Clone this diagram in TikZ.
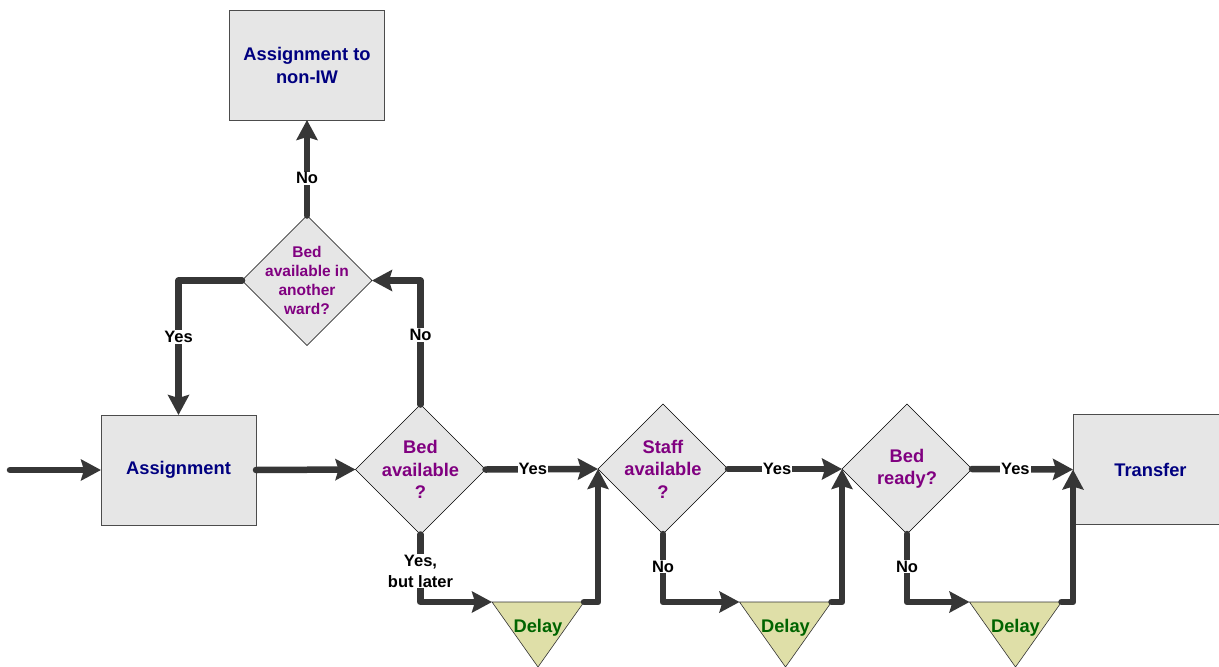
\documentclass[tikz,border=0pt]{standalone}
\usepackage{fontspec}
\setmainfont{Liberation Sans}
\usetikzlibrary{shapes.geometric,arrows.meta}
\definecolor{boxfill}{HTML}{E6E6E6}
\definecolor{boxtext}{HTML}{000080}
\definecolor{asktext}{HTML}{800080}
\definecolor{delayfill}{HTML}{DFDFA8}
\definecolor{delaytext}{HTML}{006400}
\definecolor{flow}{HTML}{363636}

\begin{document}
\begin{tikzpicture}[x=1pt,y=-1pt,
  procbox/.style={draw=black!70, line width=0.8pt, fill=boxfill, outer sep=0pt,
    minimum width=155pt, minimum height=110pt, inner sep=0pt, align=center,
    font=\fontsize{18.3}{23}\selectfont\bfseries, text=boxtext},
  ask/.style={diamond, draw=black, line width=0.6pt, fill=boxfill, outer sep=0pt,
    minimum width=130pt, minimum height=130pt, inner sep=0pt},
  asklabel/.style={align=center, text=asktext, font=\fontsize{18.3}{22.5}\selectfont\bfseries},
  asksmall/.style={align=center, text=asktext, font=\fontsize{15.5}{18.7}\selectfont\bfseries},
  flowline/.style={draw=flow, line width=6.5pt, line cap=round, line join=round},
  flowarrow/.style={flowline, -{Stealth[length=20pt,width=21pt,inset=3pt]}},
  tag/.style={fill=white, inner sep=1pt, align=center,
    font=\fontsize{16.5}{21}\selectfont\bfseries, text=black},
  delaybox/.style={draw=black!80, line width=0.6pt, fill=delayfill},
  delaylabel/.style={text=delaytext, font=\fontsize{18.3}{22}\selectfont\bfseries}
]
\useasboundingbox (0,0) rectangle (1219,667);
\fill[white] (0,0) rectangle (1219,667);

% process boxes
\node[procbox] (nonIW) at (307,65) {Assignment to\\non-IW};
\node[procbox] (assign) at (178.5,470) {Assignment};
\node[procbox] (transfer) at (1150.5,469.5) {Transfer};

% decisions
\node[ask, label={[asksmall]center:{Bed\\available in\\another\\ward?}}] (other) at (307,280.5) {};
\node[ask, label={[asklabel]center:{Bed\\available\\?}}] (bed) at (420.5,469.5) {};
\node[ask, label={[asklabel]center:{Staff\\available\\?}}] (staff) at (663,469) {};
\node[ask, label={[asklabel]center:{Bed\\ready?}}] (ready) at (907,469) {};

% delay triangles
\foreach \n/\cx in {1/538, 2/785.5, 3/1015.5} {
  \coordinate (d\n w) at (\cx-46,602);
  \coordinate (d\n e) at (\cx+46,602);
  \coordinate (d\n s) at (\cx,667);
  \filldraw[delaybox] (d\n w) -- (d\n e) -- (d\n s) -- cycle;
  \node[delaylabel] (d\n) at (\cx,628) {Delay};
}

% flow
\coordinate (start) at (10,470);
\draw[flowarrow] (start) -- (assign.west);
\draw[flowarrow] (assign.east) -- (bed.west);
\draw[flowarrow] (bed.north) |- node[tag,pos=0.28]{No} (other.east);
\draw[flowarrow] (other.north) -- node[tag,pos=0.39]{No} (nonIW.south);
\draw[flowarrow] (other.west) -| node[tag,pos=0.71]{Yes} (assign.north);

\draw[flowarrow] (bed.east) -- node[tag,pos=0.42]{Yes} (staff.west);
\draw[flowarrow] (bed.south) |- node[tag,pos=0.27]{Yes,\\but later} (d1w);
\draw[flowarrow] (d1e) -| (staff.west);

\draw[flowarrow] (staff.east) -- node[tag,pos=0.43]{Yes} (ready.west);
\draw[flowarrow] (staff.south) |- node[tag,pos=0.24]{No} (d2w);
\draw[flowarrow] (d2e) -| (ready.west);

\draw[flowarrow] (ready.east) -- node[tag,pos=0.43]{Yes} (transfer.west);
\draw[flowarrow] (ready.south) |- node[tag,pos=0.24]{No} (d3w);
\draw[flowarrow] (d3e) -| (transfer.west);
\end{tikzpicture}
\end{document}
